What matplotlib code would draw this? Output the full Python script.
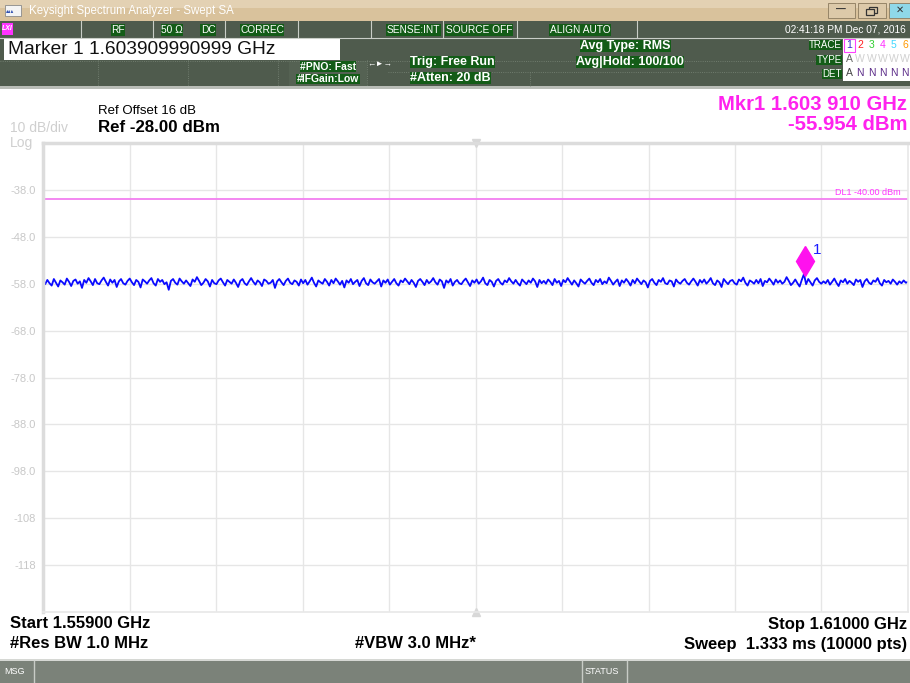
import numpy as np
import matplotlib.pyplot as plt
import matplotlib.transforms as mtransforms
from matplotlib.patches import Rectangle

plt.rcParams['font.family'] = ['Liberation Sans', 'DejaVu Sans']

# ---- sweep settings ----
start_ghz = 1.559
stop_ghz = 1.610
ref_level = -28.0
db_per_div = 10
display_line = -40.0
marker_freq = 1.603909990999
marker_level = -55.954
ytick_labels = ['-38.0', '-48.0', '-58.0', '-68.0', '-78.0', '-88.0', '-98.0', '-108', '-118']

# trace 1 (RMS average), dBm, evenly spaced from start to stop
trace_dbm = [
    -57.4, -58.1, -57.2, -57.9, -58.4, -57.0, -57.8, -58.6, -57.3, -57.7, -58.2, -56.9, -57.6, -58.5, -57.4, -57.1, -58.0, -57.5, -58.9, -57.2,
    -57.8, -56.8, -57.5, -58.3, -57.0, -57.9, -58.1, -57.3, -56.7, -57.6, -58.4, -57.1, -57.8, -57.2, -58.7, -57.5, -57.0, -57.9, -58.2, -57.4,
    -56.9, -57.7, -58.3, -57.2, -57.6, -58.8, -57.1, -57.5, -58.0, -57.3, -56.8, -57.9, -58.4, -57.0, -57.6, -57.2, -58.1, -57.7, -59.3, -57.4,
    -57.0, -57.8, -58.2, -56.9, -57.5, -58.0, -57.3, -57.9, -58.5, -57.1, -57.6, -56.6, -57.4, -58.3, -57.8, -57.0, -57.5, -58.6, -57.2, -57.9,
    -58.1, -57.3, -56.9, -57.7, -58.4, -57.2, -57.6, -58.0, -57.1, -57.8, -58.7, -57.4, -57.0, -57.9, -58.3, -57.5, -56.8, -57.6, -58.2, -57.3,
    -57.7, -58.5, -57.1, -57.4, -58.0, -57.8, -57.2, -58.9, -57.5, -57.0, -57.7, -58.3, -57.4, -56.9, -57.8, -58.1, -57.3, -57.6, -58.4, -57.1,
    -57.9, -57.2, -58.2, -57.5, -56.7, -57.8, -58.6, -57.3, -57.7, -58.0, -57.0, -57.6, -58.4, -57.2, -57.9, -56.9, -57.5, -58.2, -57.4, -58.8,
    -57.3, -57.8, -57.0, -58.1, -57.6, -57.2, -58.5, -57.4, -56.8, -57.9, -58.3, -57.1, -57.7, -58.0, -57.5, -57.0, -58.6, -57.3, -57.8, -57.1,
    -58.2, -57.6, -57.0, -57.9, -58.4, -57.3, -57.7, -56.9, -57.5, -58.1, -57.2, -57.8, -58.7, -57.4, -57.0, -57.6, -58.3, -57.2, -57.9, -57.5,
    -56.8, -57.7, -58.2, -57.1, -57.5, -58.9, -57.3, -57.8, -57.0, -58.4, -57.6, -57.2, -57.9, -58.1, -57.4, -56.9, -57.7, -58.5, -57.3, -57.8,
    -57.1, -58.0, -57.5, -56.7, -57.9, -58.3, -57.2, -57.6, -58.6, -57.4, -57.0, -57.8, -58.2, -57.3, -57.7, -56.8, -57.5, -58.0, -57.2, -57.9,
    -58.4, -57.1, -57.6, -58.1, -57.3, -57.8, -56.9, -57.5, -58.7, -57.2, -57.9, -57.4, -58.0, -57.1, -57.6, -58.3, -57.0, -57.8, -57.4, -58.5,
    -57.2, -57.7, -56.8, -57.5, -58.2, -57.3, -57.9, -58.6, -57.1, -57.6, -58.0, -57.4, -56.9, -57.8, -58.3, -57.2, -57.7, -57.0, -58.1, -57.5,
    -57.9, -56.7, -57.4, -58.2, -57.6, -57.1, -58.5, -57.3, -57.8, -57.0, -57.6, -58.4, -57.2, -57.9, -56.9, -57.5, -58.1, -57.3, -57.7, -58.8,
    -57.4, -57.0, -57.8, -58.3, -57.2, -57.6, -56.8, -57.9, -58.1, -57.3, -57.5, -58.6, -57.1, -57.7, -58.0, -57.4, -57.0, -57.8, -58.2, -57.5,
    -56.9, -57.6, -58.4, -57.2, -57.8, -57.1, -58.0, -57.5, -56.8, -57.9, -58.3, -57.3, -57.7, -58.7, -57.0, -57.6, -58.1, -57.4, -57.2, -57.9,
    -58.2, -57.1, -57.5, -56.7, -57.8, -58.4, -57.3, -57.6, -58.0, -57.2, -57.9, -57.0, -58.5, -57.4, -57.7, -56.9, -57.5, -58.2, -57.1, -57.8,
    -57.3, -58.0, -57.6, -56.6, -57.4, -58.3, -57.8, -57.1, -57.9, -58.6, -57.2, -55.954, -58.1, -57.0, -57.7, -58.4, -57.3, -56.8, -57.6, -58.0,
    -57.5, -57.9, -57.2, -58.2, -57.6, -56.9, -57.8, -58.5, -57.3, -57.7, -57.0, -58.0, -57.4, -57.8, -58.3, -57.1, -57.6, -57.2, -58.7, -57.5,
    -57.0, -57.8, -58.1, -57.3, -57.6, -56.8, -57.9, -58.4, -57.2, -57.7, -57.4, -58.0, -57.1, -57.6, -58.2, -57.5, -57.9, -57.3, -57.8, -57.6,
]

W, H = 910, 683
fig = plt.figure(figsize=(W / 100, H / 100), dpi=100)
fig.patch.set_facecolor('white')

# pixel-space overlay for the instrument window chrome
ui = fig.add_axes([0, 0, 1, 1], zorder=0)
ui.set_xlim(0, W)
ui.set_ylim(H, 0)
ui.axis('off')

panel = '#4f5b4d'
hl = '#135c17'


def box(x0, y0, x1, y1, fc, ec='none', lw=0.0):
    ui.add_patch(Rectangle((x0, y0), x1 - x0, y1 - y0, facecolor=fc, edgecolor=ec, linewidth=lw))


# title bar
box(0, 0, W, 21, '#d9c29c')
box(0, 0, W, 8, '#e3d1b3')
box(5, 5, 21, 16, '#f4f4f4', '#8a8a8a', 0.6)
ui.text(6, 11, '▴▴▴', fontsize=4, color='#3050b0', va='center')
ui.text(29, 11, 'Keysight Spectrum Analyzer - Swept SA', fontsize=8.3, color='white', va='center')
for x0, x1, c in [(828, 855, '#dcc9a9'), (858, 886, '#dcc9a9'), (889, 910, '#8fd8e8')]:
    box(x0, 3, x1, 18, c, '#8b7a5e', 0.6)
ui.text(841, 10, '—', fontsize=7, color='#333333', ha='center', va='center', fontweight='bold')
# restore-down icon: two overlapping small windows
box(869, 6.5, 877, 12.5, 'none', '#333333', 0.9)
box(866, 9, 874, 15, '#dcc9a9', '#333333', 0.9)
ui.text(900, 10, '✕', fontsize=7, color='#333333', ha='center', va='center', fontweight='bold')

# status row
box(0, 21, W, 87, panel)
box(0, 86, W, 89, '#b9bdb7')
box(2, 23, 13, 35, '#ff33ff')
ui.text(7.5, 29, 'LXI', fontsize=5, color='white', ha='center', va='center', fontweight='bold', style='italic')
for x in [81, 153, 225, 298, 371, 443, 517, 637]:
    ui.plot([x, x], [21, 37], color='#c9cec7', lw=0.8)
ui.plot([0, W], [37.5, 37.5], color='#c9cec7', lw=0.8)
row1 = [(118, 'RF', 'center'), (172, '50 Ω', 'center'), (208, 'DC', 'center'), (262, 'CORREC', 'center'),
        (440, 'SENSE:INT', 'right'), (479, 'SOURCE OFF', 'center'), (580, 'ALIGN AUTO', 'center')]
for x, s, ha in row1:
    ui.text(x, 30, s, fontsize=7.3, color='white', ha=ha, va='center',
            bbox=dict(facecolor=hl, edgecolor='none', pad=0.4))
ui.text(906, 30, '02:41:18 PM Dec 07, 2016', fontsize=7.3, color='white', ha='right', va='center')

# marker readout box
box(4, 38, 340, 60, 'white')
ui.text(8, 49.5, 'Marker 1 1.603909990999 GHz', fontsize=13.8, color='#111111', va='center')

# dotted dividers in the lower status rows
for x in [98, 188, 278, 367]:
    ui.plot([x, x], [60, 86], color='#7a8778', lw=0.6, ls=':')
ui.plot([0, 840], [60.5, 60.5], color='#7a8778', lw=0.6, ls=':')
ui.plot([388, 835], [71.5, 71.5], color='#7a8778', lw=0.6, ls=':')
ui.plot([530, 530], [72, 86], color='#7a8778', lw=0.6, ls=':')
box(289, 61, 367, 86, '#556253')
ui.text(328, 66.5, '#PNO: Fast', fontsize=7.5, color='white', ha='center', va='center', fontweight='bold',
        bbox=dict(facecolor=hl, edgecolor='none', pad=0.3))
ui.text(328, 79, '#IFGain:Low', fontsize=7.5, color='white', ha='center', va='center', fontweight='bold',
        bbox=dict(facecolor=hl, edgecolor='none', pad=0.3))
ui.text(380, 64, '←►→', fontsize=6, color='white', ha='center', va='center')
ui.text(410, 62, 'Trig: Free Run', fontsize=9, color='white', va='center', fontweight='bold',
        bbox=dict(facecolor=hl, edgecolor='none', pad=0.3))
ui.text(410, 78, '#Atten: 20 dB', fontsize=9, color='white', va='center', fontweight='bold',
        bbox=dict(facecolor=hl, edgecolor='none', pad=0.3))
ui.text(580, 46, 'Avg Type: RMS', fontsize=9, color='white', va='center', fontweight='bold',
        bbox=dict(facecolor=hl, edgecolor='none', pad=0.3))
ui.text(576, 62, 'Avg|Hold: 100/100', fontsize=9, color='white', va='center', fontweight='bold',
        bbox=dict(facecolor=hl, edgecolor='none', pad=0.3))

# trace / type / detector table
for y, s in [(45, 'TRACE'), (60, 'TYPE'), (74, 'DET')]:
    ui.text(842, y, s, fontsize=7, color='white', ha='right', va='center',
            bbox=dict(facecolor=hl, edgecolor='none', pad=0.2))
box(843, 38, W, 81, 'white')
trace_cols = ['#3a2bd0', '#ff2020', '#30d030', '#ff30ff', '#40d8ff', '#ff9900']
for i, c in enumerate(trace_cols):
    x = 849 + i * 11.2
    ui.text(x, 45.5, str(i + 1), fontsize=7.5, color=c, ha='center', va='center')
    ui.text(x, 59.5, 'A' if i == 0 else 'W', fontsize=7.5, color='#666666' if i == 0 else '#d0d0d0',
            ha='center', va='center')
    ui.text(x, 72.5, 'A' if i == 0 else 'N', fontsize=7.5, color='#444444' if i == 0 else '#5a2a88',
            ha='center', va='center')
box(844, 39, 855, 52, 'none', '#ff40ff', 0.8)

# header texts above the graticule
ui.text(10, 128, '10 dB/div', fontsize=10, color='#cfcfcf', va='center')
ui.text(10, 142.5, 'Log', fontsize=10, color='#cfcfcf', va='center')
ui.text(98, 111, 'Ref Offset 16 dB', fontsize=9.5, color='black', va='center')
ui.text(98, 128, 'Ref -28.00 dBm', fontsize=12.2, color='black', va='center', fontweight='bold')
ui.text(907, 104, 'Mkr1 1.603 910 GHz', fontsize=14.6, color='#ff22ee', ha='right', va='center', fontweight='bold')
ui.text(907, 124, f'{marker_level:.3f} dBm', fontsize=14.6, color='#ff22ee', ha='right', va='center', fontweight='bold')

# footer texts
ui.text(10, 624, f'Start {start_ghz:.5f} GHz', fontsize=12, color='black', va='center', fontweight='bold')
ui.text(10, 644, '#Res BW 1.0 MHz', fontsize=12, color='black', va='center', fontweight='bold')
ui.text(415, 644, '#VBW 3.0 MHz*', fontsize=12, color='black', ha='center', va='center', fontweight='bold')
ui.text(907, 624, f'Stop {stop_ghz:.5f} GHz', fontsize=12, color='black', ha='right', va='center', fontweight='bold')
ui.text(907, 644, 'Sweep  1.333 ms (10000 pts)', fontsize=12, color='black', ha='right', va='center',
        fontweight='bold')

# message / status bar
box(0, 659, W, 661, '#d6d8d4')
box(0, 661, W, H, '#7b8279')
ui.plot([34, 34], [661, H], color='#c8ccc6', lw=1)
ui.plot([582, 582], [661, H], color='#c8ccc6', lw=1)
ui.plot([627, 627], [661, H], color='#c8ccc6', lw=1)
ui.text(4, 671, 'MSG', fontsize=6.5, color='white', va='center')
ui.text(585, 671, 'STATUS', fontsize=6.5, color='white', va='center')

# ---- graticule ----
left, right, top, bottom = 43, 908, 143, 612
ax = fig.add_axes([left / W, 1 - bottom / H, (right - left) / W, (bottom - top) / H], zorder=1)
ax.set_facecolor('white')
ax.set_xlim(start_ghz, stop_ghz)
ax.set_ylim(ref_level - 10 * db_per_div, ref_level)
ax.set_xticks(np.linspace(start_ghz, stop_ghz, 11))
ax.set_yticks(ref_level - db_per_div * np.arange(1, 10))
ax.set_yticklabels(ytick_labels)
ax.tick_params(axis='y', length=0, pad=5, labelsize=8, labelcolor='#c8c8c8')
ax.tick_params(axis='x', length=0, labelbottom=False)
ax.grid(True, color='#e6e6e6', lw=1)
for side in ['right', 'bottom']:
    ax.spines[side].set_color('#e8e8e8')
    ax.spines[side].set_linewidth(1.2)
for side in ['left', 'top']:
    ax.spines[side].set_color('#dcdcdc')
    ax.spines[side].set_linewidth(2.5)

# center-frequency ticks on the top and bottom edges
fc = (start_ghz + stop_ghz) / 2
ax.plot([fc], [ref_level], marker='v', ms=6, color='#d8d8d8', clip_on=False)
ax.plot([fc], [ref_level - 10 * db_per_div], marker='^', ms=6, color='#d8d8d8', clip_on=False)

# display line
ax.axhline(display_line, color='#f27ef0', lw=1.3)
ax.text(0.992, display_line + 1.4, 'DL1 -40.00 dBm', transform=ax.get_yaxis_transform(),
        fontsize=6.5, color='#ff33ff', ha='right', va='center')

# trace
freqs = np.linspace(start_ghz, stop_ghz, len(trace_dbm))
ax.plot(freqs, trace_dbm, color='#0a0aff', lw=1.3)

# marker 1 diamond sits just above the trace point
lift = mtransforms.offset_copy(ax.transData, fig=fig, x=0, y=9.5, units='points')
ax.plot([marker_freq], [marker_level], marker='d', ms=15, color='#ff11ee', mec='#ff11ee',
        transform=lift, clip_on=False)
lift_label = mtransforms.offset_copy(ax.transData, fig=fig, x=6, y=17, units='points')
ax.text(marker_freq, marker_level, '1', transform=lift_label, fontsize=11, color='#1a1aff', va='center')

fig.savefig('out.png', dpi=100)
